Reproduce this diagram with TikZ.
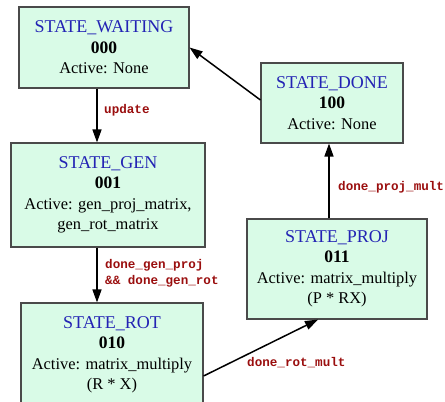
\documentclass[tikz,border=0pt]{standalone}
\usepackage{fontspec}
\setmainfont{Liberation Serif}
\setmonofont{Liberation Mono}
\usetikzlibrary{arrows.meta}

\definecolor{statefill}{HTML}{D9FBE7}
\definecolor{stateborder}{HTML}{4A4A4A}
\definecolor{titleblue}{HTML}{2323B4}
\definecolor{condred}{HTML}{9A0E0E}

\newcommand{\stname}[1]{{\fontsize{18}{20.5}\selectfont\color{titleblue}#1}}
\newcommand{\stcode}[1]{{\fontsize{17.5}{20.5}\selectfont\bfseries #1}}

\begin{document}
\begin{tikzpicture}[x=1pt,y=-1pt,
  statebox/.style={draw=stateborder, fill=statefill, line width=1.1pt,
    align=center, inner sep=0pt, anchor=center,
    font=\fontsize{16.4}{20.5}\selectfont},
  trans/.style={line width=1.5pt, -{Triangle[length=13pt,width=9pt]}},
  cond/.style={font=\fontsize{12.6}{16}\selectfont\ttfamily\bfseries,
    text=condred, align=left, inner sep=0pt, anchor=west}]
\useasboundingbox (0,0) rectangle (445,402);
\clip (0,0) rectangle (445,402);

% states
\node[statebox, minimum width=170pt, minimum height=81pt] (wait) at (104,47.5)
  {\stname{STATE\_WAITING}\\\stcode{000}\\Active: None};
\node[statebox, minimum width=194pt, minimum height=104pt] (gen) at (108,195)
  {\stname{STATE\_GEN}\\\stcode{001}\\Active: gen\_proj\_matrix,\\gen\_rot\_matrix};
\node[statebox, minimum width=182pt, minimum height=104pt] (rot) at (112,355)
  {\stname{STATE\_ROT}\\\stcode{010}\\Active: matrix\_multiply\\(R * X)};
\node[statebox, minimum width=180pt, minimum height=100pt] (proj) at (337,269)
  {\stname{STATE\_PROJ}\\\stcode{011}\\Active: matrix\_multiply\\(P * RX)};
\node[statebox, minimum width=142pt, minimum height=80pt] (done) at (332,103)
  {\stname{STATE\_DONE}\\\stcode{100}\\Active: None};

% transitions
\draw[trans] ([xshift=-7pt]wait.south) -- ([xshift=-11pt]gen.north);
\draw[trans] ([xshift=-11pt]gen.south) -- ([xshift=-15pt]rot.north);
\draw[trans] ([yshift=-21pt]rot.east) -- ([xshift=-19pt]proj.south);
\draw[trans] ([xshift=-8pt]proj.north) -- ([xshift=-3pt]done.south);
\draw[trans] ([yshift=3pt]done.west) -- (wait.east);

% transition conditions
\node[cond] (c1) at (104,110) {update};
\node[cond] (c2) at (105,273) {done\_gen\_proj\\\&\& done\_gen\_rot};
\node[cond] (c3) at (247,363) {done\_rot\_mult};
\node[cond] (c4) at (338,187) {done\_proj\_mult};
\end{tikzpicture}
\end{document}
